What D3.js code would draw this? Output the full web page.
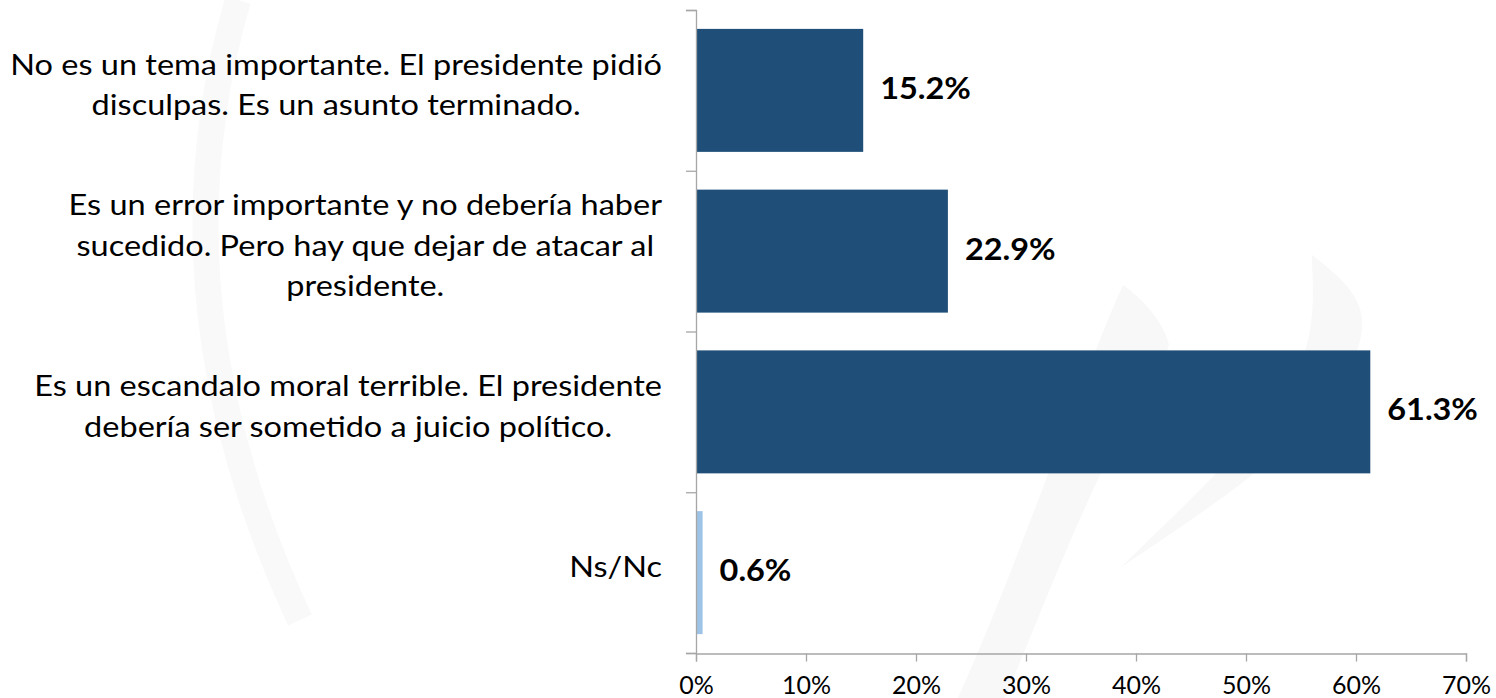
<!DOCTYPE html>
<html>
<head>
<meta charset="utf-8">
<script src="https://cdn.jsdelivr.net/npm/d3@7"></script>
<style>
  html, body { margin: 0; padding: 0; background: #ffffff; }
  svg { display: block; }
  text { font-family: Lato, "Noto Sans", sans-serif; fill: #000; }
</style>
</head>
<body>
<svg id="chart" width="1496" height="698"></svg>
<script>
// ---- data ----
const categories = [
  "No es un tema importante. El presidente pidió|disculpas. Es un asunto terminado.",
  "Es un error importante y no debería haber|sucedido. Pero hay que dejar de atacar al|presidente.",
  "Es un escandalo moral terrible. El presidente|debería ser sometido a juicio político.",
  "Ns/Nc"
];
const values = [15.2, 22.9, 61.3, 0.6];
const valueLabels = ["15.2%", "22.9%", "61.3%", "0.6%"];
const xTicks = [0, 10, 20, 30, 40, 50, 60, 70];
const xTickLabels = ["0%", "10%", "20%", "30%", "40%", "50%", "60%", "70%"];

// ---- setup ----
const W = 1496, H = 698;
const svg = d3.select("#chart");
const margin = { left: 696, right: 30, top: 10, bottom: 45 };

const x = d3.scaleLinear().domain([0, 70]).range([margin.left, W - margin.right]);
const y = d3.scaleBand().domain(categories).range([margin.top, H - margin.bottom])
  .paddingInner(0.235).paddingOuter(0.1175);
const color = d3.scaleOrdinal().domain(categories).range(["#1F4E79", "#1F4E79", "#1F4E79", "#9DC3E6"]);

// ---- faint watermark ----
svg.append("path").attr("fill", "none").attr("stroke", "#f9f9f9").attr("stroke-width", 26)
  .attr("d", "M238,0 Q150,300 300,620");
svg.append("path").attr("fill", "#f8f8f8")
  .attr("d", "M958,698 C1020,560 1080,380 1123,285 C1145,300 1165,325 1169,345 C1150,400 1120,440 1100,475 C1060,560 1030,640 1005,698 Z");
svg.append("path").attr("fill", "#f8f8f8")
  .attr("d", "M1312,255 C1345,280 1365,300 1362,330 C1350,420 1220,500 1120,568 C1200,490 1300,400 1310,330 C1315,300 1312,275 1312,255 Z");

// ---- bars ----
svg.append("g").selectAll("rect").data(categories).join("rect")
  .attr("x", x(0))
  .attr("y", d => y(d))
  .attr("width", (d, i) => x(values[i]) - x(0))
  .attr("height", y.bandwidth())
  .attr("fill", d => color(d));

// ---- axes ----
const xAxis = svg.append("g")
  .attr("transform", `translate(0,${H - margin.bottom + 0.5})`)
  .call(d3.axisBottom(x).tickValues(xTicks).tickFormat((d, i) => xTickLabels[i]).tickSize(8).tickPadding(15));
xAxis.selectAll("path, line").attr("stroke", "#a6a6a6").attr("stroke-width", 1.3);
xAxis.selectAll("text").attr("font-size", 25).attr("font-family", "Lato").attr("fill", "#000");

const yBound = d3.scaleLinear().domain([0, categories.length]).range([margin.top, H - margin.bottom]);
const yAxis = svg.append("g")
  .attr("transform", `translate(${margin.left},0)`)
  .call(d3.axisLeft(yBound).ticks(categories.length).tickFormat("").tickSize(10));
yAxis.selectAll("path, line").attr("stroke", "#a6a6a6").attr("stroke-width", 1.3);

// ---- category labels ----
const labelRight = 662;
const lineH = 40.5;
const stretch = 1.16;
categories.forEach(cat => {
  const lines = cat.split("|");
  const g = svg.append("g").attr("transform", `translate(${labelRight},0) scale(${stretch},1)`);
  const t = g.append("text")
    .attr("font-size", 28)
    .attr("text-anchor", "middle");
  const cy = y(cat) + y.bandwidth() / 2 - 5;
  lines.forEach((ln, j) => {
    t.append("tspan").text(ln)
      .attr("y", cy + (j - (lines.length - 1) / 2) * lineH)
      .attr("dy", "0.35em");
  });
  const maxW = d3.max(t.selectAll("tspan").nodes(), n => n.getComputedTextLength());
  t.selectAll("tspan").attr("x", -maxW / 2);
});

// ---- value labels ----
svg.append("g").selectAll("g").data(categories).join("g")
  .attr("transform", (d, i) => `translate(${x(values[i]) + 17},${y(d) + y.bandwidth() / 2 - 2}) scale(1.08,1)`)
  .append("text")
  .attr("dy", "0.35em")
  .attr("font-size", 30)
  .attr("font-weight", "bold")
  .text((d, i) => valueLabels[i]);
</script>
</body>
</html>
